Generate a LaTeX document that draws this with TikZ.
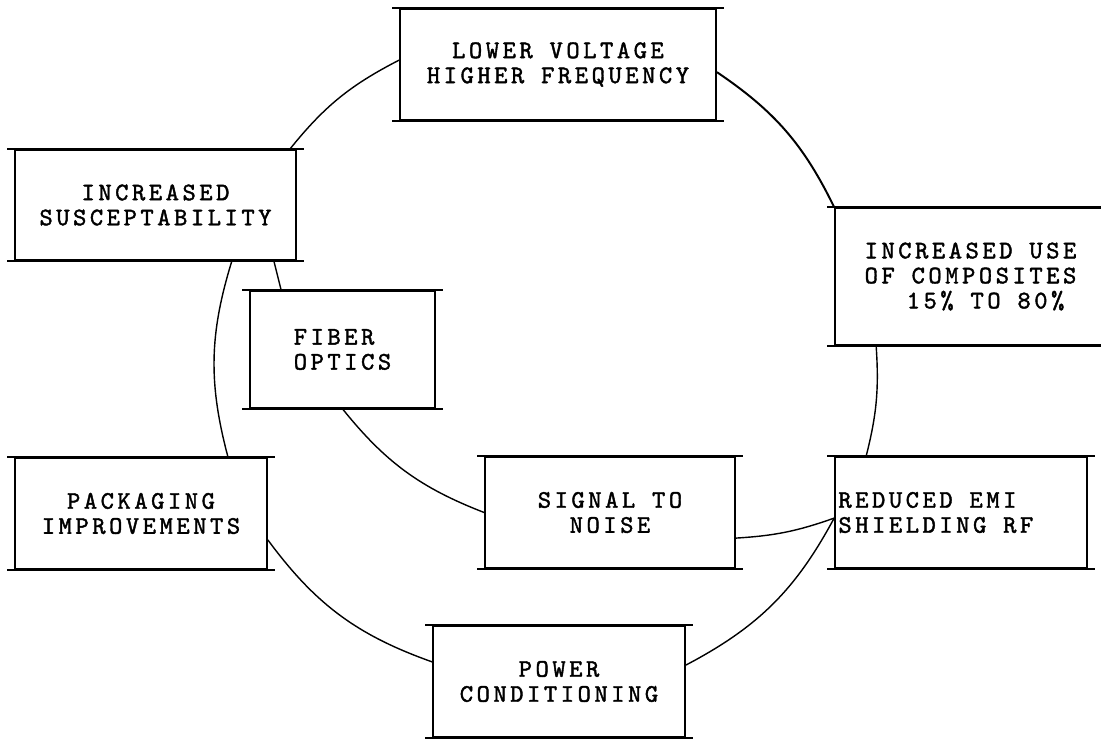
\documentclass[tikz,border=0pt]{standalone}
\usepackage{fontspec}
\newfontfamily\typefont{lmmono10-regular}[Extension=.otf, LetterSpace=14, FakeBold=1.6]
\begin{document}
\begin{tikzpicture}
  \tikzstyle{box}=[draw, line width=1.2pt, minimum height=2.775cm, minimum width=6.3cm, align=center, inner sep=0pt, font=\typefont\fontsize{18pt}{17.8pt}\selectfont]
  \tikzstyle{boxtext}=[align=left, inner sep=0pt, font=\typefont\fontsize{18pt}{17.8pt}\selectfont]
  \tikzstyle{link}=[line width=1pt]

  \useasboundingbox (0,0) rectangle (27.525,-18.5);

  % Ring of boxes, clockwise from the top
  \node[box, minimum width=7.9cm] (lv) at (13.95,-1.6125) {LOWER VOLTAGE\\HIGHER FREQUENCY};
  \node[box, minimum width=6.775cm, minimum height=3.425cm] (comp) at (24.2625,-6.9125) {INCREASED USE\\OF COMPOSITES\\\phantom{00}15\% TO 80\%};
  \node[box] (emi) at (24.025,-12.8125) {};
  \node[boxtext, anchor=west] (emitxt) at ([xshift=0.1cm]emi.west) {REDUCED EMI\\SHIELDING RF};
  \node[box] (pc) at (13.975,-17.0375) {POWER\\CONDITIONING};
  \node[box] (pk) at (3.525,-12.8375) {PACKAGING\\IMPROVEMENTS};
  \node[box, minimum width=7.025cm, minimum height=2.75cm] (is) at (3.8875,-5.125) {INCREASED\\SUSCEPTABILITY};

  % Inner boxes
  \node[box, minimum width=4.625cm, minimum height=2.925cm, align=left] (fo) at (8.5625,-8.7375) {FIBER\\OPTICS};
  \node[box, minimum width=6.25cm] (sn) at (15.25,-12.8125) {SIGNAL TO\\NOISE};

  % Top and bottom rules run a little past the sides
  \foreach \b in {lv,comp,emi,pc,pk,is,fo,sn} {
    \draw[line width=1.2pt] ([xshift=-0.175cm]\b.north west) -- ([xshift=0.175cm]\b.north east);
    \draw[line width=1.2pt] ([xshift=-0.175cm]\b.south west) -- ([xshift=0.175cm]\b.south east);
  }

  % The circle, drawn counterclockwise
  \coordinate (emiin) at ([yshift=-0.14cm]emi.west);
  \draw[link] ([yshift=0.11cm]lv.west) to[bend right=12] ([xshift=-0.175cm]is.north east);
  \draw[link, line width=1.4pt] (comp.north west) to[bend right=15] ([yshift=-0.19cm]lv.east);
  \draw[link] ([xshift=0.8cm]emi.north west) to[bend right=9] ([xshift=1.05cm]comp.south west);
  \draw[link] ([yshift=0.41cm]pc.east) to[bend right=17] (emiin);
  \draw[link] ([yshift=-0.66cm]pk.east) to[bend right=17] ([yshift=0.49cm]pc.west);
  \draw[link] ([xshift=1.91cm]is.south) to[bend right=16] ([xshift=2.175cm]pk.north);

  % Spokes to the inner boxes
  \draw[link] ([xshift=-0.575cm]is.south east) -- ([xshift=0.8cm]fo.north west);
  \draw[link] (fo.south) to[bend right=15] (sn.west);
  \draw[link] ([yshift=-0.64cm]sn.east) to[bend right=8] (emiin);
\end{tikzpicture}
\end{document}
